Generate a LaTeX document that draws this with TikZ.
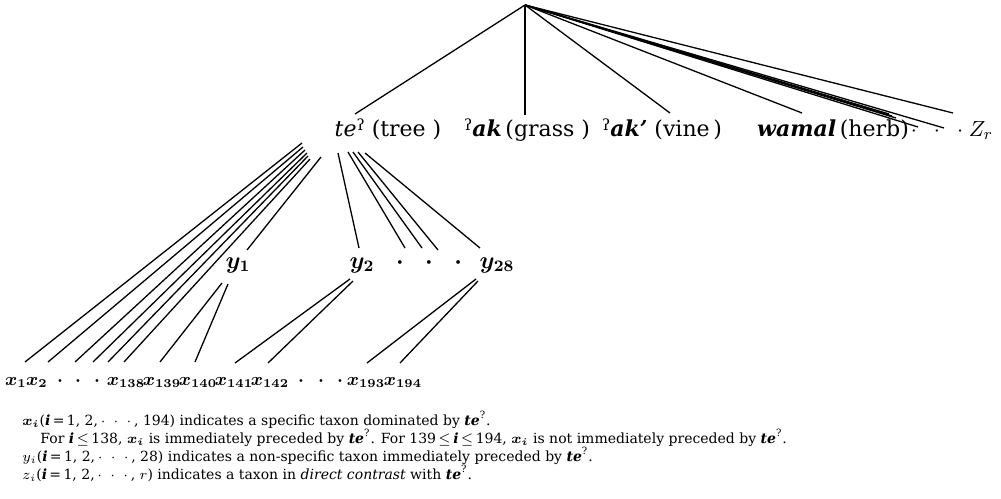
\documentclass[tikz,border=0pt]{standalone}
\usepackage{amsmath,amssymb}
\usepackage{fontspec}
\setmainfont{DejaVu Serif}
\usetikzlibrary{positioning}

\newcommand{\glot}{\raisebox{.45ex}{\scalebox{.7}{ʔ}}}
\newcommand{\teq}{\textbf{\textit{te}}\textsuperscript{?}}

\begin{document}
\begin{tikzpicture}[
  x=0.5pt, y=-0.5pt,
  every node/.style={inner sep=0pt},
  branch/.style={line width=0.65pt, black},
  taxon/.style={font=\fontsize{11}{13}\selectfont, anchor=base},
  ylab/.style={font=\fontsize{12}{14}\selectfont\boldmath, anchor=base},
  xlab/.style={font=\fontsize{9}{11}\selectfont\boldmath, anchor=base},
  note/.style={font=\fontsize{7}{9}\selectfont, anchor=base west},
]
  \useasboundingbox (0,0) rectangle (1001,498);

  % top level
  \coordinate (root) at (525,5);
  \node[taxon] (te)    at (388,136) {{\itshape te}\glot\ (tree\ )};
  \node[taxon] (ak)    at (527,136) {\glot\textbf{\textit{ak}}\,(grass\ )};
  \node[taxon] (akp)   at (662,136) {\glot\textbf{\textit{ak’}}\ (vine\,)};
  \node[taxon] (wamal) at (833,136) {\textbf{\textit{wamal}}\,(herb)};
  \node[taxon] (zdots) at (937,136) {$\cdot\;\;\cdot\;\;\cdot$};
  \node[taxon] (zr)    at (981,136) {$Z_r$};

  % ends of the branches under the root
  \coordinate (te-in)    at (355,114);
  \coordinate (ak-in)    at (525,115);
  \coordinate (akp-in)   at (670,113);
  \coordinate (wamal-in) at (802,113);
  \coordinate (c1) at (889,114);
  \coordinate (c2) at (892,116);
  \coordinate (c3) at (896,118);
  \coordinate (c4) at (918,127);
  \coordinate (c5) at (944,128);
  \coordinate (c6) at (953,113);
  \foreach \e in {te-in, ak-in, akp-in, wamal-in, c1, c2, c3, c4, c5, c6}
    \draw[branch] (root) -- (\e);

  % second level
  \node[ylab] (y1)    at (238,268) {$y_1$};
  \node[ylab] (y2)    at (362,268) {$y_2$};
  \node[ylab] (ydots) at (429,268) {$\cdot\;\;\cdot\;\;\cdot$};
  \node[ylab] (y28)   at (497,268) {$y_{28}$};

  % bottom row
  \foreach \n/\px/\t in {x1/16/{$x_1$}, x2/37/{$x_2$},
      d1/60/{$\cdot$}, d2/78/{$\cdot$}, d3/97/{$\cdot$},
      x138/126/{$x_{138}$}, x139/162/{$x_{139}$}, x140/198/{$x_{140}$},
      x141/234/{$x_{141}$}, x142/270/{$x_{142}$},
      d4/301/{$\cdot$}, d5/321/{$\cdot$}, d6/340/{$\cdot$},
      x193/366/{$x_{193}$}, x194/403/{$x_{194}$}}
    \node[xlab] (\n) at (\px,385) {\t};

  % branches below te, y1, y2, y28
  \foreach \n/\tx/\ty/\bx/\by in {
      1/302/143/25/362, 2/303/147/48/362, 3/305/150/75/362,
      4/307/153/93/362, 5/308/156/108/362, 6/310/159/124/362,
      7/321/157/247/250,
      8/338/153/359/248, 9/348/152/405/248, 10/353/152/422/248,
      11/358/152/438/250, 12/365/153/480/248,
      13/222/283/160/362, 14/228/284/195/362,
      15/350/279/235/363, 16/353/281/268/363,
      17/476/279/367/363, 18/478/281/400/363} {
    \coordinate (s\n) at (\tx,\ty);
    \coordinate (f\n) at (\bx,\by);
    \draw[branch] (s\n) -- (f\n);
  }

  % key
  \node[note] (k1) at (22,425) {$\boldsymbol{x_i}$(\textbf{\textit{i}}\,=\,1, 2,$\,\cdot\;\cdot\;\cdot\,$, 194) indicates a specific taxon dominated by \teq.};
  \node[note] (k2) at (40,443) {For \textbf{\textit{i}}\,$\leq$\,138, $\boldsymbol{x_i}$ is immediately preceded by \teq. For 139\,$\leq$\,\textbf{\textit{i}}\,$\leq$\,194, $\boldsymbol{x_i}$ is not immediately preceded by \teq.};
  \node[note] (k3) at (22,461) {$y_i$(\textbf{\textit{i}}\,=\,1, 2,$\,\cdot\;\cdot\;\cdot\,$, 28) indicates a non-specific taxon immediately preceded by \teq.};
  \node[note] (k4) at (22,479) {$z_i$(\textbf{\textit{i}}\,=\,1, 2,$\,\cdot\;\cdot\;\cdot\,$, $r$) indicates a taxon in \textit{direct contrast} with \teq.};
\end{tikzpicture}
\end{document}
